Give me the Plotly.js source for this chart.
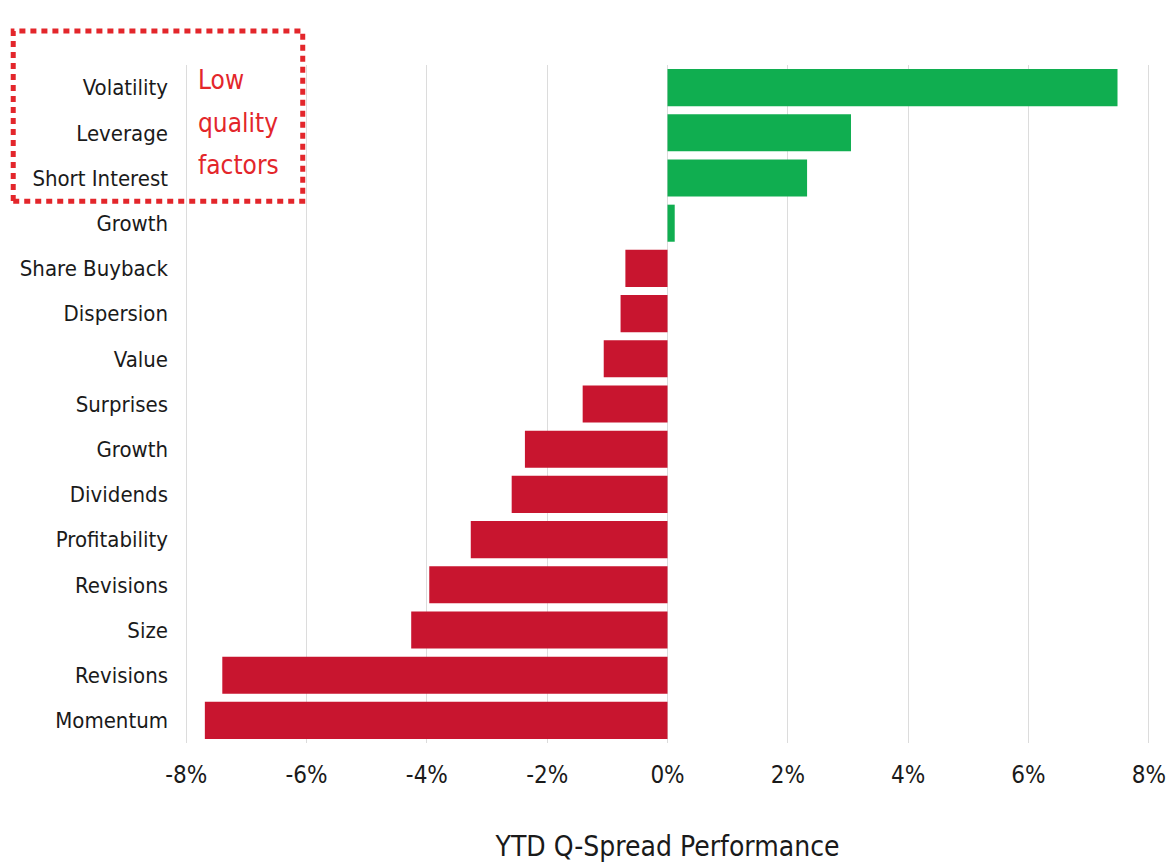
<!DOCTYPE html>
<html>
<head>
<meta charset="utf-8">
<script src="https://cdn.plot.ly/plotly-3.0.1.min.js"></script>
<style>html,body{margin:0;padding:0;background:#fff;}#chart{width:1175px;height:868px;}</style>
</head>
<body>
<div id="chart"></div>
<script>
const categories = ["Volatility","Leverage","Short Interest","Growth","Share Buyback","Dispersion","Value","Surprises","Growth","Dividends","Profitability","Revisions","Size","Revisions","Momentum"];
const values = [7.48, 3.05, 2.32, 0.12, -0.70, -0.78, -1.06, -1.41, -2.37, -2.59, -3.27, -3.96, -4.26, -7.40, -7.69];
const xTickVals = [-8, -6, -4, -2, 0, 2, 4, 6, 8];
const xTickText = ["-8%", "-6%", "-4%", "-2%", "0%", "2%", "4%", "6%", "8%"];
const noteLines = ["Low", "quality", "factors"];

const GREEN = "#10ae50", RED = "#c8152f", NOTE = "#e3262b";
const FONT = "'DejaVu Sans Condensed', 'Roboto', sans-serif";
const positions = categories.map((c, i) => i);
const noteY = [0.978, 0.914, 0.852];

const trace = {
  type: "bar",
  orientation: "h",
  x: values,
  y: positions,
  marker: { color: values.map(v => v >= 0 ? GREEN : RED), line: { width: 0 } },
  hoverinfo: "x+text",
  text: categories,
  textposition: "none"
};

const layout = {
  width: 1175, height: 868,
  margin: { l: 185, r: 25, t: 65, b: 125 },
  paper_bgcolor: "#fff", plot_bgcolor: "#fff",
  bargap: 0.18,
  showlegend: false,
  font: { family: FONT, color: "#1a1a1a" },
  xaxis: {
    range: [-8.02, 8.02],
    tickvals: xTickVals,
    ticktext: xTickText,
    showgrid: true, gridcolor: "#dcdcdc", gridwidth: 1,
    zeroline: false, showline: false, ticks: "",
    tickfont: { size: 24, family: FONT, color: "#1a1a1a" },
    ticklabelstandoff: 15,
    title: { text: "YTD Q-Spread Performance", font: { size: 28, family: FONT, color: "#1a1a1a" }, standoff: 48 }
  },
  yaxis: {
    range: [14.5, -0.5],
    tickvals: positions,
    ticktext: categories,
    showgrid: false, zeroline: false, showline: false, ticks: "",
    tickfont: { size: 22, family: FONT, color: "#1a1a1a" },
    ticklabelstandoff: 16
  },
  shapes: [{
    type: "rect", xref: "paper", yref: "paper",
    x0: -0.178, x1: 0.122, y0: 0.799, y1: 1.05,
    line: { color: NOTE, width: 5, dash: "6px,5px" },
    fillcolor: "rgba(0,0,0,0)"
  }],
  annotations: noteLines.map((t, i) => ({
    xref: "paper", yref: "paper",
    x: 0.011, y: noteY[i],
    xanchor: "left", yanchor: "middle", align: "left",
    text: t, showarrow: false,
    font: { size: 26, family: FONT, color: NOTE }
  }))
};

Plotly.newPlot("chart", [trace], layout, { displayModeBar: false, staticPlot: true });
</script>
</body>
</html>
